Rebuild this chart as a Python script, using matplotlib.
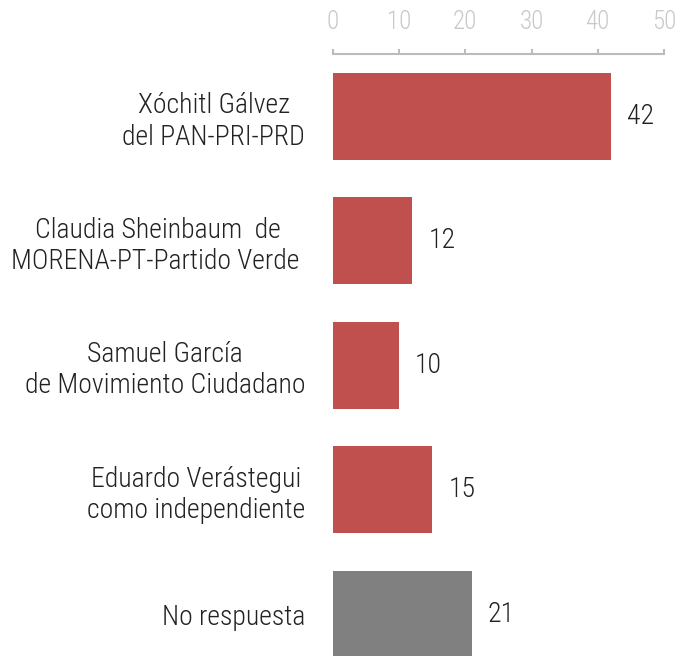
import matplotlib.pyplot as plt

labels = [
    "Xóchitl Gálvez\ndel PAN-PRI-PRD",
    "Claudia Sheinbaum  de\nMORENA-PT-Partido Verde ",
    "Samuel García\nde Movimiento Ciudadano",
    "Eduardo Verástegui\ncomo independiente",
    "No respuesta",
]
values = [42, 12, 10, 15, 21]
colors = ["#c0504d", "#c0504d", "#c0504d", "#c0504d", "#808080"]
ticks = [0, 10, 20, 30, 40, 50]

plt.rcParams["font.family"] = ["Roboto Condensed", "DejaVu Sans"]
plt.rcParams["font.weight"] = "light"

fig = plt.figure(figsize=(6.77, 6.56), dpi=100)
ax = fig.add_axes([333 / 677, 0, 331 / 677, 1 - 54 / 656])

pos = range(len(values))
ax.barh(pos, values, height=0.7, color=colors)
ax.set_xlim(0, 50)
ax.set_ylim(4.337, -0.502)

## value labels next to each bar
for p, v in zip(pos, values):
    ax.annotate(str(v), (v, p), xytext=(11.5, 0), textcoords="offset points",
                va="center", ha="left", fontsize=20, color="#222222")

## category labels, lines centred inside each block
ax.set_yticks(list(pos))
ax.set_yticklabels(labels, fontsize=20, color="#222222",
                   ha="right", multialignment="center")
ax.tick_params(axis="y", length=0, pad=20)

## top axis
ax.xaxis.tick_top()
ax.set_xticks(ticks)
ax.tick_params(axis="x", direction="out", length=3.6, width=1.5, color="#bbbbbb",
               labelcolor="#c8c8c8", labelsize=18, pad=11)

for s in ["right", "bottom", "left"]:
    ax.spines[s].set_visible(False)
ax.spines["top"].set_color("#bbbbbb")
ax.spines["top"].set_linewidth(1.5)

fig.savefig("out.png", dpi=100)
